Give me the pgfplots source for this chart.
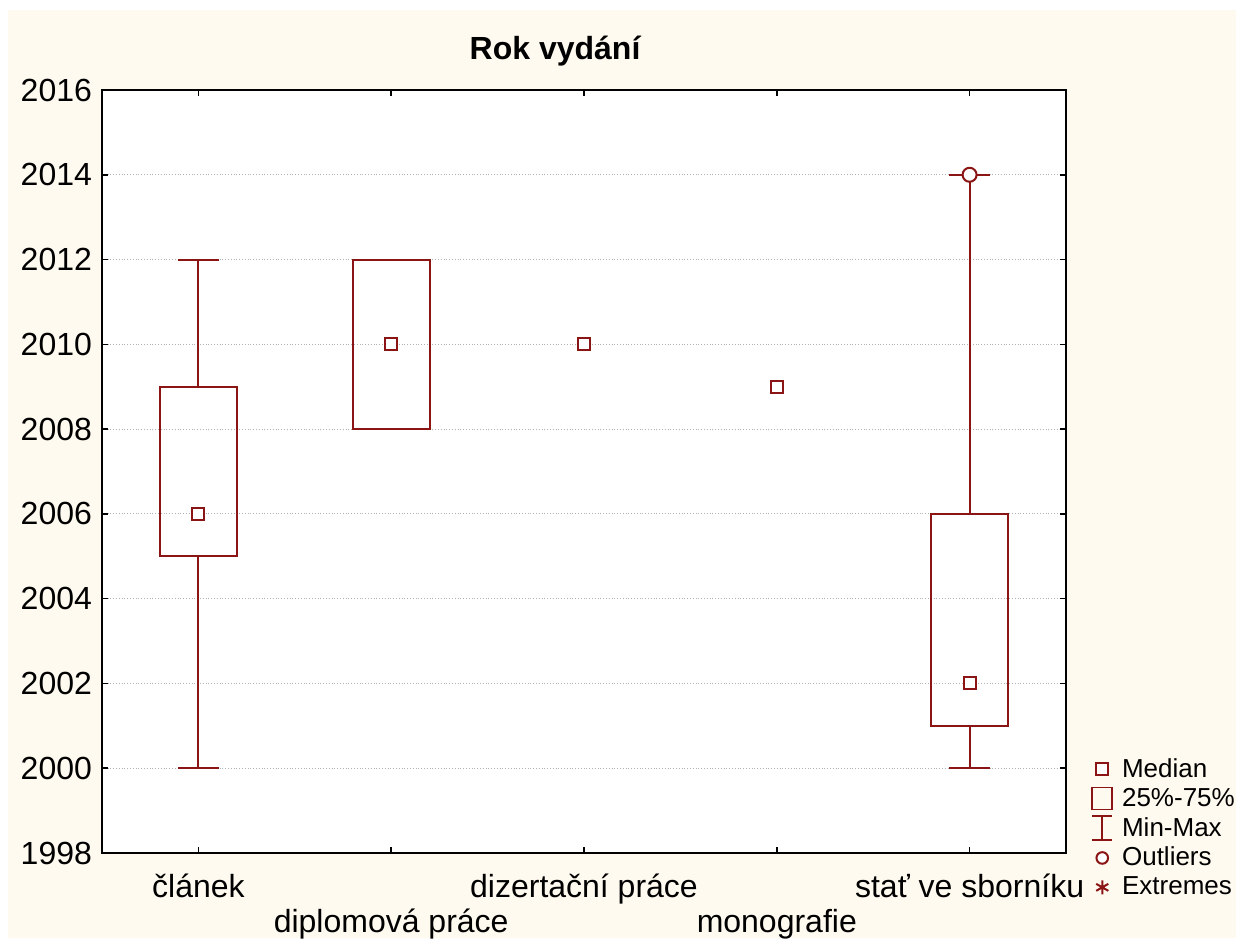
\documentclass[border=0pt]{standalone}
\usepackage{pgfplots}
\pgfplotsset{compat=1.18}
\usepackage{fontspec}
\setmainfont{Liberation Sans}
\definecolor{bg}{RGB}{255,250,239}
\definecolor{dred}{RGB}{139,20,20}
\pgfplotsset{
  boxlegend/.style={legend image code/.code={\draw[##1] (0.3cm-5pt,-5.5pt) rectangle (0.3cm+5pt,5.5pt);}},
  whiskerlegend/.style={legend image code/.code={\draw[##1] (0.3cm-5pt,-6pt) -- (0.3cm+5pt,-6pt) (0.3cm,-6pt) -- (0.3cm,6pt) (0.3cm-5pt,6pt) -- (0.3cm+5pt,6pt);}},
  bx/.style={dred, line width=1pt, no marks, forget plot},
}
\begin{document}
\begin{tikzpicture}
\path[use as bounding box, fill=white] (0pt,0pt) rectangle (618pt,469pt);
\fill[bg] (4pt,0pt) rectangle (618pt,464pt);
\begin{axis}[
  at={(51pt,42.5pt)}, anchor=south west, scale only axis,
  width=482pt, height=381.5pt,
  axis background/.style={fill=white},
  xmin=-0.5, xmax=4.5, ymin=1998, ymax=2016,
  xtick={0,1,2,3,4},
  xticklabels={\strut článek,\strut\\diplomová práce,\strut dizertační práce,\strut\\monografie,\strut stať ve sborníku},
  ytick={1998,2000,...,2016},
  tick align=inside, tick pos=both,
  major tick length=3pt,
  tick style={black, line width=0.8pt},
  axis line style={black, line width=0.9pt},
  ymajorgrids, grid style={densely dotted, gray!60, line width=0.5pt},
  /pgf/number format/set thousands separator={},
  /pgf/number format/assume math mode=true,
  ticklabel style={font=\fontsize{16}{17.5}\selectfont},
  xticklabel style={align=center, yshift=-6.5pt},
  yticklabel style={xshift=-1.5pt},
  title={Rok vydání},
  title style={at={(0.47,1)}, anchor=base, yshift=9.5pt, font=\fontsize{16}{18}\selectfont\bfseries},
  legend style={at={(1.026,0.13)}, anchor=north west, draw=none, fill=none,
    font=\fontsize{13}{15}\selectfont, row sep=0pt, inner sep=0pt, column sep=2.5pt},
  legend cell align=left,
]
% článek
\addplot[bx] coordinates {(-0.2,2005) (0.2,2005) (0.2,2009) (-0.2,2009)} -- cycle;
\addplot[bx] coordinates {(0,2009) (0,2012)};
\addplot[bx] coordinates {(0,2005) (0,2000)};
\addplot[bx] coordinates {(-0.105,2012) (0.105,2012)};
\addplot[bx] coordinates {(-0.105,2000) (0.105,2000)};
% diplomová práce
\addplot[bx] coordinates {(0.8,2008) (1.2,2008) (1.2,2012) (0.8,2012)} -- cycle;
\addplot[bx] coordinates {(0.895,2012) (1.105,2012)};
\addplot[bx] coordinates {(0.895,2008) (1.105,2008)};
% stať ve sborníku
\addplot[bx] coordinates {(3.8,2001) (4.2,2001) (4.2,2006) (3.8,2006)} -- cycle;
\addplot[bx] coordinates {(4,2006) (4,2014)};
\addplot[bx] coordinates {(4,2001) (4,2000)};
\addplot[bx] coordinates {(3.895,2014) (4.105,2014)};
\addplot[bx] coordinates {(3.895,2000) (4.105,2000)};
% medians
\addplot[dred, line width=1pt, forget plot, only marks, mark=square*, mark size=3pt, mark options={fill=white}]
  coordinates {(0,2006) (1,2010) (2,2010) (3,2009) (4,2002)};
% outlier
\addplot[dred, line width=1pt, forget plot, only marks, mark=*, mark size=3.5pt, mark options={fill=white}]
  coordinates {(4,2014)};
\addlegendimage{only marks, mark=square*, mark size=3pt, dred, line width=1pt, mark options={fill=white}}
\addlegendentry{Median}
\addlegendimage{dred, line width=0.8pt, boxlegend}
\addlegendentry{25\%-75\%}
\addlegendimage{dred, line width=0.8pt, whiskerlegend}
\addlegendentry{Min-Max}
\addlegendimage{only marks, mark=*, mark size=2.9pt, dred, line width=1pt, mark options={fill=white}}
\addlegendentry{Outliers}
\addlegendimage{only marks, mark=asterisk, mark size=3.5pt, dred, line width=1pt}
\addlegendentry{Extremes}
\end{axis}
\end{tikzpicture}
\end{document}
